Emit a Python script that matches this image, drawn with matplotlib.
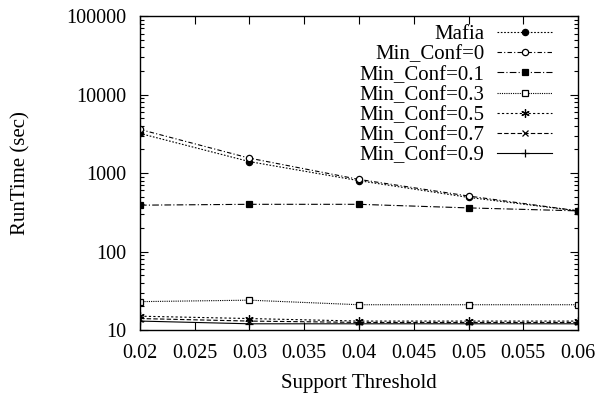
import numpy as np
import matplotlib
matplotlib.use('Agg')
import matplotlib.pyplot as plt
from matplotlib.ticker import FixedLocator, LogLocator, NullFormatter

support = [0.02, 0.03, 0.04, 0.05, 0.06]

mafia = [3200, 1400, 800, 490, 330]
conf_0 = [3600, 1550, 830, 510, 330]
conf_01 = [390, 400, 400, 360, 330]
conf_03 = [23, 24, 21, 21, 21]
conf_05 = [15, 14, 13, 13, 13]
conf_07 = [14, 13, 12.5, 12.5, 12.5]
conf_09 = [13, 12, 12, 12, 12]

labels = ['Mafia', 'Min_Conf=0', 'Min_Conf=0.1', 'Min_Conf=0.3',
          'Min_Conf=0.5', 'Min_Conf=0.7', 'Min_Conf=0.9']
series = [mafia, conf_0, conf_01, conf_03, conf_05, conf_07, conf_09]

plt.rcParams['font.family'] = ['Liberation Serif', 'DejaVu Serif']

styles = [
    dict(linestyle=(0, (1.5, 1.5)), marker='o', mfc='black', ms=4.5),
    dict(linestyle=(0, (4, 2, 1, 2)), marker='o', mfc='white', ms=4.5),
    dict(linestyle=(0, (6, 2, 1, 2)), marker='s', mfc='black', ms=5),
    dict(linestyle=(0, (1, 1)), marker='s', mfc='white', ms=5),
    dict(linestyle=(0, (2, 2)), marker=(6, 2, 0), mfc='black', ms=6),
    dict(linestyle=(0, (4, 2)), marker='x', mfc='black', ms=4.5),
    dict(linestyle='-', marker='+', mfc='black', ms=6),
]

fig = plt.figure(figsize=(5.99, 3.94), dpi=100)
ax = fig.add_axes([0.2337, 0.1624, 0.7313, 0.7966])

for vals, lab, st in zip(series, labels, styles):
    ax.plot(support, vals, color='black', linewidth=0.8, mec='black',
            mew=0.9, label=lab, **st)

ax.set_yscale('log')
ax.set_ylim(10, 100000)
ax.set_xlim(0.02, 0.06)
xt = np.arange(0.02, 0.0601, 0.005)
ax.xaxis.set_major_locator(FixedLocator(xt))
ax.set_xticklabels(['%g' % v for v in xt])
ax.yaxis.set_major_locator(FixedLocator([10, 100, 1000, 10000, 100000]))
ax.set_yticklabels(['10', '100', '1000', '10000', '100000'])
ax.yaxis.set_minor_locator(LogLocator(base=10, subs=np.arange(2, 10)))
ax.yaxis.set_minor_formatter(NullFormatter())

ax.tick_params(which='both', direction='in', top=True, right=True,
               labelsize=14.5)
ax.tick_params(axis='x', pad=10)
ax.tick_params(axis='y', pad=10)
ax.tick_params(which='major', length=6, width=0.8)
ax.tick_params(which='minor', length=3, width=0.8)
for s in ax.spines.values():
    s.set_linewidth(1.0)

ax.set_xlabel('Support Threshold', fontsize=15, labelpad=8)
ax.set_ylabel('RunTime (sec)', fontsize=15)
ax.yaxis.set_label_coords(-0.249, 0.5)

ax.legend(loc='upper right', frameon=False, markerfirst=False,
          fontsize=15, handlelength=2.64, labelspacing=0.03,
          borderaxespad=0.25, borderpad=0.4, handletextpad=0.62,
          bbox_to_anchor=(0.972, 1.016))

fig.savefig('out.png', dpi=100)
